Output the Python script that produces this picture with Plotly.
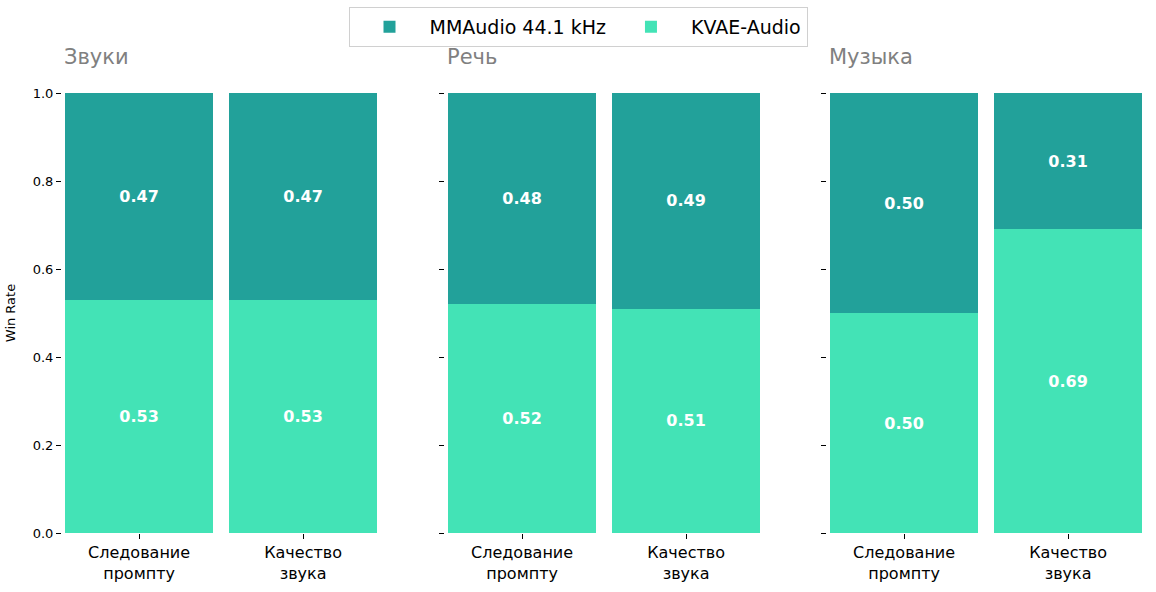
import plotly.graph_objects as go

W, H = 1156, 592

panels = ["Звуки", "Речь", "Музыка"]
categories = ["Следование<br>промпту", "Качество<br>звука"]
kvae = [[0.53, 0.53], [0.52, 0.51], [0.50, 0.69]]
mmaudio = [[0.47, 0.47], [0.48, 0.49], [0.50, 0.31]]

c_mm = "#22A19A"
c_kv = "#43E3B6"

# pixel positions of axes (left edges)
x_left = [62, 445, 827]
unit = 164
xr = [-0.47, 1.47]
y_top, y_bot = 93, 533

fig = go.Figure()
for i in range(3):
    xa = "x" if i == 0 else f"x{i+1}"
    ya = "y" if i == 0 else f"y{i+1}"
    xs = [0, 1]
    fig.add_trace(go.Bar(
        x=xs, y=kvae[i], width=0.9, marker=dict(color=c_kv, line=dict(width=0)),
        name="KVAE-Audio", legendgroup="kv", showlegend=(i == 0), legendrank=2,
        texttemplate="<b>%{y:.2f}</b>", textposition="inside", insidetextanchor="middle",
        textfont=dict(color="white", size=16, family="DejaVu Sans"),
        xaxis=xa, yaxis=ya, hoverinfo="skip"))
    fig.add_trace(go.Bar(
        x=xs, y=mmaudio[i], width=0.9, marker=dict(color=c_mm, line=dict(width=0)),
        name="MMAudio 44.1 kHz", legendgroup="mm", showlegend=(i == 0), legendrank=1,
        texttemplate="<b>%{y:.2f}</b>", textposition="inside", insidetextanchor="middle",
        textfont=dict(color="white", size=16, family="DejaVu Sans"),
        xaxis=xa, yaxis=ya, hoverinfo="skip"))

layout = dict(
    width=W, height=H, barmode="stack",
    margin=dict(l=0, r=0, t=0, b=0, autoexpand=False),
    plot_bgcolor="white", paper_bgcolor="white",
    font=dict(family="DejaVu Sans", color="black"),
    legend=dict(orientation="h", x=0.5, xanchor="center", y=1 - 7 / H, yanchor="top",
                bordercolor="#d0d0d0", borderwidth=1, font=dict(size=19),
                traceorder="normal", itemwidth=70),
)
annotations = []
for i in range(3):
    xd0 = x_left[i] / W
    xd1 = (x_left[i] + (xr[1] - xr[0]) * unit) / W
    sfx = "" if i == 0 else str(i + 1)
    layout["xaxis" + sfx] = dict(
        domain=[xd0, xd1], range=xr, anchor="y" + sfx, automargin=False,
        tickvals=[0, 1], ticktext=categories, ticks="outside", ticklen=5,
        tickcolor="black", showline=False, showgrid=False, zeroline=False,
        tickfont=dict(size=16), fixedrange=True)
    layout["yaxis" + sfx] = dict(
        domain=[(H - y_bot) / H, (H - y_top) / H], range=[0, 1], anchor="x" + sfx,
        automargin=False,
        tickvals=[0, 0.2, 0.4, 0.6, 0.8, 1.0],
        ticktext=["0.0", "0.2", "0.4", "0.6", "0.8", "1.0"] if i == 0 else [""] * 6,
        ticks="outside", ticklen=5, tickcolor="black", showline=False,
        showgrid=False, zeroline=False, tickfont=dict(size=13), fixedrange=True,
        title=dict(text="Win Rate", font=dict(size=13), standoff=14) if i == 0 else None)
    annotations.append(dict(
        text=panels[i], x=xd0, y=1 - 57 / H, xref="paper", yref="paper",
        xanchor="left", yanchor="middle", showarrow=False,
        font=dict(size=21, color="#808080")))
layout["annotations"] = annotations
fig.update_layout(**layout)
fig.write_html("out.html")
